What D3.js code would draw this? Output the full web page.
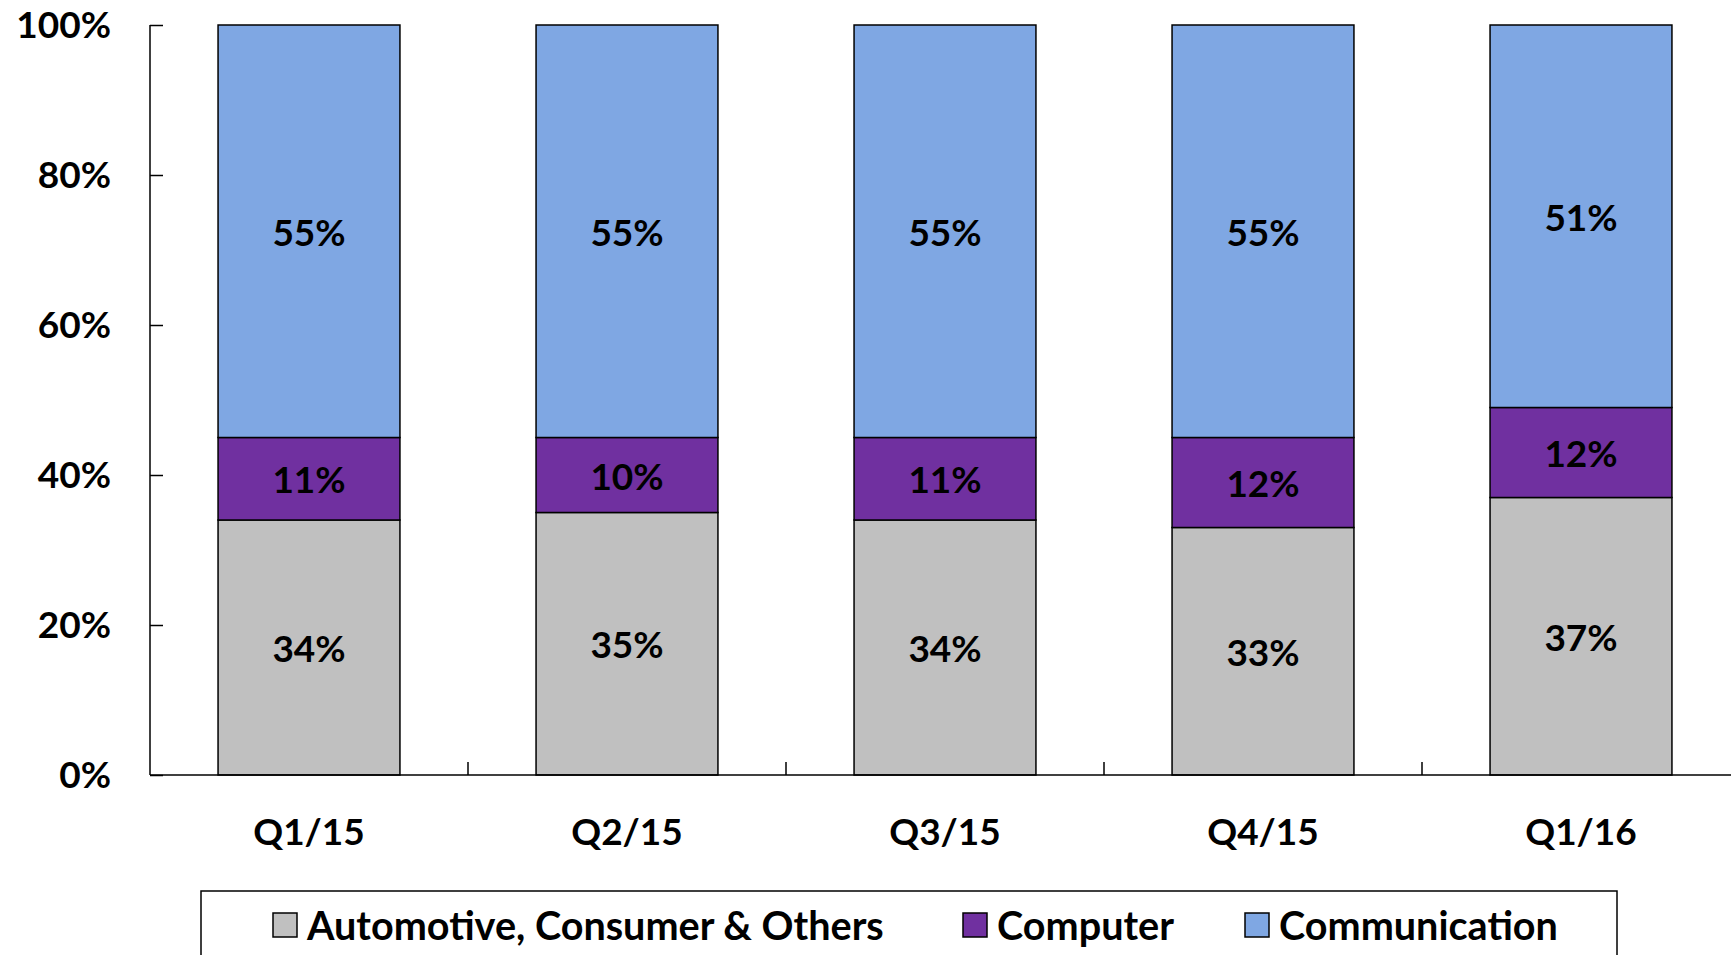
<!DOCTYPE html>
<html><head><meta charset="utf-8">
<script src="https://cdn.jsdelivr.net/npm/d3@7"></script>
<style>html,body{margin:0;padding:0;background:#fff;overflow:hidden}svg{display:block}text{font-family:Lato,"Open Sans",sans-serif;font-weight:700;fill:#000}</style>
</head><body>
<script>
const categories = ["Q1/15","Q2/15","Q3/15","Q4/15","Q1/16"];
const automotive = [34,35,34,33,37];
const computer = [11,10,11,12,12];
const communication = [55,55,55,55,51];
const seriesNames = ["Automotive, Consumer & Others","Computer","Communication"];
const seriesColors = ["#C0C0C0","#7030A0","#7FA7E3"];
const yTicks = [0,20,40,60,80,100];

const W=1731,H=955;
const svg=d3.select("body").append("svg").attr("width",W).attr("height",H);
const x0=150,x1=1740,yTop=25,yBot=775;
const x=d3.scaleBand().domain(categories).range([x0,x1]).paddingInner(0.428).paddingOuter(0.214);
const y=d3.scaleLinear().domain([0,100]).range([yBot,yTop]);

const rows=categories.map((c,i)=>({cat:c,a:automotive[i],b:computer[i],c:communication[i]}));
const stack=d3.stack().keys(["a","b","c"])(rows);

const g=svg.append("g");
stack.forEach((s,si)=>{
  g.selectAll(null).data(s).enter().append("rect")
   .attr("x",d=>x(d.data.cat)).attr("width",x.bandwidth())
   .attr("y",d=>y(d[1])).attr("height",d=>y(d[0])-y(d[1]))
   .attr("fill",seriesColors[si]).attr("stroke","#000").attr("stroke-width",1.5);
  g.selectAll(null).data(s).enter().append("text")
   .attr("x",d=>x(d.data.cat)+x.bandwidth()/2).attr("y",d=>y((d[0]+d[1])/2))
   .attr("text-anchor","middle").attr("dominant-baseline","central")
   .style("font-size","37px").text(d=>(d[1]-d[0])+"%");
});

// y axis
const ya=svg.append("g").attr("transform",`translate(${x0},0)`)
 .call(d3.axisLeft(y).tickValues(yTicks).tickSize(-13).tickPadding(39).tickFormat(d=>d+"%"));
ya.select(".domain").remove();
ya.selectAll(".tick line").attr("stroke","#000").attr("stroke-width",1.5);
ya.selectAll(".tick text").style("font-size","37px").attr("font-family",null).attr("dy","0.35em");
svg.append("line").attr("x1",x0).attr("x2",x0).attr("y1",yTop).attr("y2",yBot).attr("stroke","#000").attr("stroke-width",1.5);

// x axis
const xa=svg.append("g").attr("transform",`translate(0,${yBot})`)
 .call(d3.axisBottom(x).tickSize(0).tickPadding(44));
xa.select(".domain").remove();
xa.selectAll(".tick text").style("font-size","37px").attr("font-family",null);
svg.append("line").attr("x1",x0).attr("x2",x1).attr("y1",yBot).attr("y2",yBot).attr("stroke","#000").attr("stroke-width",1.5);
const step=x.step();
svg.selectAll(null).data(categories.slice(1)).enter().append("line")
 .attr("x1",(d)=>x(d)-x.paddingInner()*step/2).attr("x2",(d)=>x(d)-x.paddingInner()*step/2)
 .attr("y1",yBot).attr("y2",yBot-13).attr("stroke","#000").attr("stroke-width",1.5);

// legend
svg.append("rect").attr("x",201).attr("y",891).attr("width",1416).attr("height",80)
 .attr("fill","#fff").attr("stroke","#000").attr("stroke-width",1.5);
const legX=[273,963,1245];
const lg=svg.selectAll(null).data(seriesNames).enter().append("g")
 .attr("transform",(d,i)=>`translate(${legX[i]},913)`);
lg.append("rect").attr("width",24).attr("height",24).attr("fill",(d,i)=>seriesColors[i]).attr("stroke","#000").attr("stroke-width",1.5);
lg.append("text").attr("x",34).attr("y",11).attr("dominant-baseline","central").style("font-size","39.6px").text(d=>d);
</script>
</body></html>
